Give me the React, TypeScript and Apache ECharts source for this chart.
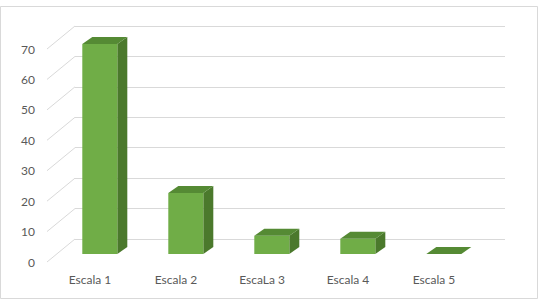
import React, { useEffect, useRef } from "react";
import * as echarts from "echarts";

const categories = ["Escala 1", "Escala 2", "EscaLa 3", "Escala 4", "Escala 5"];
const values = [69, 20, 6, 5, 0];
const yTicks = [0, 10, 20, 30, 40, 50, 60, 70];
const yMax = 70;
const yInterval = 10;

const DEPTH_X = 28;
const DEPTH_Y = 23;
const GRID_COLOR = "#d9d9d9";
const TEXT_COLOR = "#595959";
const FONT = "Lato, 'Open Sans', sans-serif";

export default function App() {
  const ref = useRef<HTMLDivElement>(null);
  useEffect(() => {
    if (!ref.current) return;
    const chart = echarts.init(ref.current, null, { renderer: "svg" });
    const option: any = {
      animation: false,
      backgroundColor: "#ffffff",
      graphic: [
        {
          type: "rect",
          shape: { x: 0.5, y: 6.5, width: 537, height: 292 },
          style: { fill: "none", stroke: GRID_COLOR, lineWidth: 1 },
          silent: true,
          z: 0,
        },
      ],
      grid: [
        { left: 47, right: 64, top: 49, bottom: 39 },
        { left: 47 + DEPTH_X, right: 64 - DEPTH_X, top: 49 - DEPTH_Y, bottom: 39 + DEPTH_Y },
      ],
      xAxis: [
        {
          type: "category",
          gridIndex: 0,
          data: categories,
          axisLine: { show: false },
          axisTick: { show: false },
          axisLabel: { color: TEXT_COLOR, fontSize: 12, fontFamily: FONT, margin: 11 },
        },
        {
          type: "category",
          gridIndex: 1,
          data: categories,
          show: false,
        },
      ],
      yAxis: [
        {
          type: "value",
          gridIndex: 0,
          min: 0,
          max: yMax,
          interval: yInterval,
          axisLine: { show: false },
          axisTick: { show: false },
          splitLine: { show: false },
          axisLabel: { color: TEXT_COLOR, fontSize: 12, fontFamily: FONT, margin: 12 },
        },
        {
          type: "value",
          gridIndex: 1,
          min: 0,
          max: yMax,
          interval: yInterval,
          axisLine: { show: false },
          axisTick: { show: false },
          axisLabel: { show: false },
          splitLine: { show: true, lineStyle: { color: GRID_COLOR, width: 1 } },
        },
      ],
      series: [
        {
          type: "custom",
          name: "walls",
          xAxisIndex: 0,
          yAxisIndex: 0,
          silent: true,
          z: 1,
          data: yTicks.map((t) => [0, t]),
          renderItem: (params: any, api: any) => {
            const cs = params.coordSys;
            const p = api.coord([0, api.value(1)]);
            const x0 = cs.x;
            return {
              type: "line",
              shape: { x1: x0, y1: p[1], x2: x0 + DEPTH_X, y2: p[1] - DEPTH_Y },
              style: { stroke: GRID_COLOR, lineWidth: 1 },
            };
          },
        },
        {
          type: "custom",
          name: "bars",
          xAxisIndex: 0,
          yAxisIndex: 0,
          z: 3,
          data: values.map((v, i) => [i, v]),
          renderItem: (params: any, api: any) => {
            const i = api.value(0);
            const v = api.value(1);
            const top = api.coord([i, v]);
            const base = api.coord([i, 0]);
            const band = api.size([1, 0])[0];
            const w = band * 0.407;
            const ox = DEPTH_X * 0.35;
            const oy = -DEPTH_Y * 0.35;
            const bx = 10;
            const by = 7;
            const x1 = top[0] + ox - w / 2;
            const x2 = top[0] + ox + w / 2;
            const yT = top[1] + oy;
            const yB = base[1] + oy;
            const children: any[] = [];
            if (yB - yT > 0.5) {
              children.push({
                type: "polygon",
                shape: { points: [[x2, yT], [x2 + bx, yT - by], [x2 + bx, yB - by], [x2, yB]] },
                style: { fill: "#4b792c" },
              });
              children.push({
                type: "rect",
                shape: { x: x1, y: yT, width: w, height: yB - yT },
                style: { fill: "#70ad47" },
              });
            }
            children.push({
              type: "polygon",
              shape: { points: [[x1, yT], [x1 + bx, yT - by], [x2 + bx, yT - by], [x2, yT]] },
              style: { fill: "#558a34" },
            });
            return { type: "group", children };
          },
        },
      ],
    };
    chart.setOption(option);
    return () => chart.dispose();
  }, []);
  return (
    <div
      ref={ref}
      style={{ position: "fixed", left: 0, top: 0, width: 541, height: 301 }}
    />
  );
}
